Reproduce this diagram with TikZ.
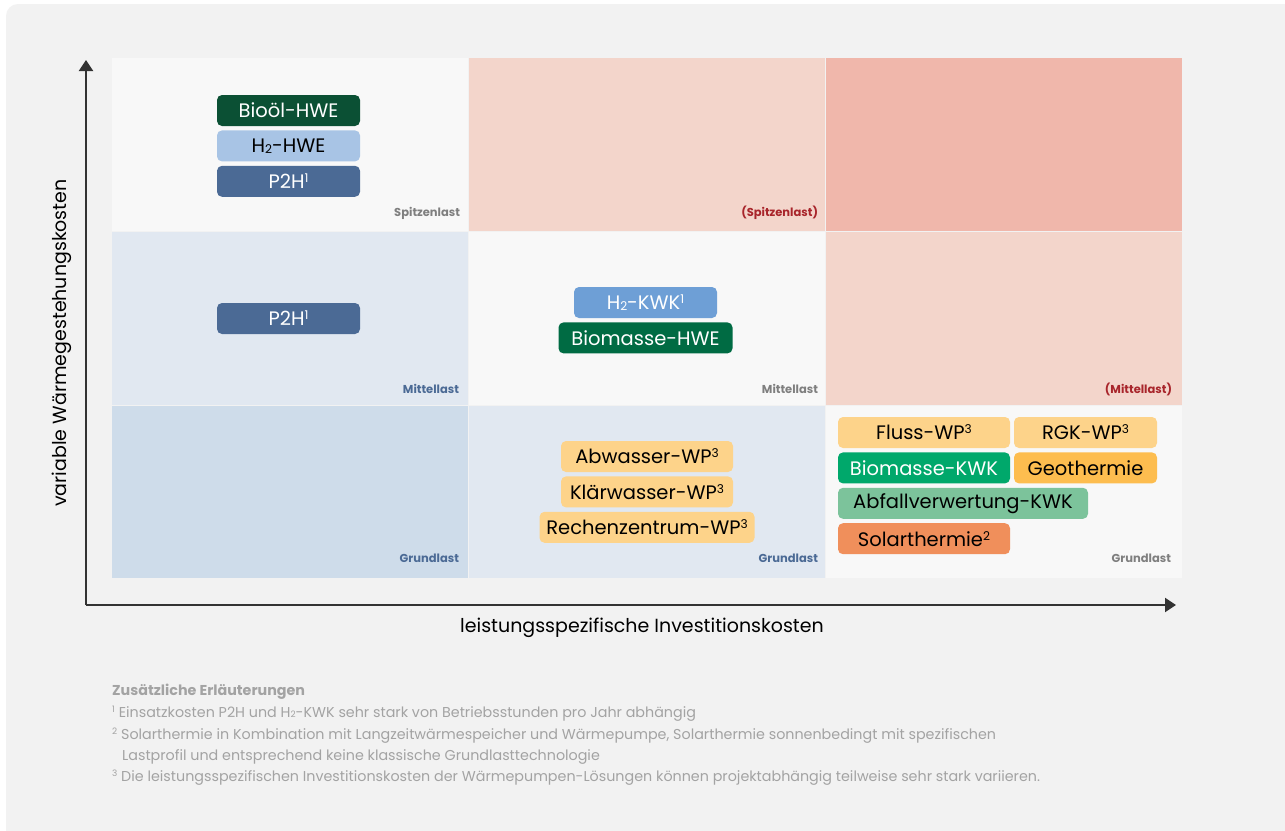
\documentclass[tikz,border=0pt]{standalone}
\usepackage{fontspec}
\setmainfont{Poppins}
\usepackage{xcolor}
\usepackage{graphicx}
\usetikzlibrary{arrows.meta,positioning}

\definecolor{cardgrey}{HTML}{F2F2F2}
\definecolor{cellwhite}{HTML}{F8F8F8}
\definecolor{cellrose}{HTML}{F3D5CB}
\definecolor{cellred}{HTML}{F0B7AB}
\definecolor{cellsky}{HTML}{E1E8F1}
\definecolor{cellblue}{HTML}{CEDCEA}
\definecolor{darkgreen}{HTML}{0B5034}
\definecolor{midgreen}{HTML}{006B43}
\definecolor{brightgreen}{HTML}{00A86B}
\definecolor{palegreen}{HTML}{7CC39B}
\definecolor{paleblue}{HTML}{A8C4E5}
\definecolor{midblue}{HTML}{6E9FD6}
\definecolor{slateblue}{HTML}{4B6A95}
\definecolor{paleorange}{HTML}{FDD38A}
\definecolor{techorange}{HTML}{FDBD4F}
\definecolor{salmon}{HTML}{F08F5B}
\definecolor{labelgrey}{HTML}{7F7F7F}
\definecolor{labelred}{HTML}{A8252B}
\definecolor{notegrey}{HTML}{A3A3A3}
\definecolor{axisgrey}{HTML}{333333}

\newcommand{\supnum}[1]{\raisebox{0.3em}{\scalebox{0.62}{#1}}}
\newcommand{\subnum}[1]{\raisebox{-0.06em}{\scalebox{0.62}{#1}}}

\begin{document}
\begin{tikzpicture}[x=1pt,y=-1pt,
  cell/.style={rectangle,inner sep=0pt,minimum width=356pt,minimum height=173pt},
  tech/.style={rectangle,rounded corners=5pt,inner sep=0pt,minimum height=31pt,
    font=\fontsize{19.5}{21}\selectfont},
  loadlabel/.style={anchor=base east,inner sep=0pt,font=\fontsize{11.5}{12}\bfseries},
  axislabel/.style={inner sep=0pt,font=\fontsize{19}{21}\selectfont},
  note/.style={anchor=base west,inner sep=0pt,text=notegrey,font=\fontsize{14.3}{16}\selectfont},
  axis/.style={line width=2pt,color=axisgrey,-{Triangle[width=14pt,length=11pt]}}]
\useasboundingbox (0,0) rectangle (1285,830);
\fill[white] (0,0) rectangle (1285,830);
%Shape: Card
\fill[cardgrey,rounded corners=12pt] (6,4) rectangle (1310,860);

%Cells: row 1
\node[cell,fill=cellwhite] (c11) at (290,144.5) {};
\node[cell,fill=cellrose] (c12) at (647,144.5) {};
\node[cell,fill=cellred] (c13) at (1004,144.5) {};
%Cells: row 2
\node[cell,fill=cellsky] (c21) at (290,318.5) {};
\node[cell,fill=cellwhite] (c22) at (647,318.5) {};
\node[cell,fill=cellrose] (c23) at (1004,318.5) {};
%Cells: row 3
\node[cell,fill=cellblue,minimum height=172pt] (c31) at (290,492) {};
\node[cell,fill=cellsky,minimum height=172pt] (c32) at (647,492) {};
\node[cell,fill=cellwhite,minimum height=172pt] (c33) at (1004,492) {};

%Load labels
\node[loadlabel,text=labelgrey] (l11) at ([shift={(-8,-15)}]c11.south east) {Spitzenlast};
\node[loadlabel,text=labelred] (l12) at ([shift={(-7,-15)}]c12.south east) {(Spitzenlast)};
\node[loadlabel,text=slateblue] (l21) at ([shift={(-9,-12)}]c21.south east) {Mittellast};
\node[loadlabel,text=labelgrey] (l22) at ([shift={(-7,-12)}]c22.south east) {Mittellast};
\node[loadlabel,text=labelred] (l23) at ([shift={(-10,-12)}]c23.south east) {(Mittellast)};
\node[loadlabel,text=slateblue] (l31) at ([shift={(-9,-16)}]c31.south east) {Grundlast};
\node[loadlabel,text=slateblue] (l32) at ([shift={(-7,-16)}]c32.south east) {Grundlast};
\node[loadlabel,text=labelgrey] (l33) at ([shift={(-11,-16)}]c33.south east) {Grundlast};

%Technologies: Spitzenlast
\node[tech,fill=darkgreen,text=white,minimum width=143pt] (biooel) at (288.5,110.5) {Bioöl-HWE};
\node[tech,fill=paleblue,minimum width=143pt,below=4pt of biooel] (hhwe) {H\subnum{2}-HWE};
\node[tech,fill=slateblue,text=white,minimum width=143pt,below=4pt of hhwe] (ptwoh) {P2H\supnum{1}};
%Technologies: Mittellast
\node[tech,fill=slateblue,text=white,minimum width=143pt] (ptwohm) at (288.5,318.5) {P2H\supnum{1}};
\node[tech,fill=midblue,text=white,minimum width=143pt] (hkwk) at (645.5,302.5) {H\subnum{2}-KWK\supnum{1}};
\node[tech,fill=midgreen,text=white,minimum width=174pt,below=4pt of hkwk] (bhwe) {Biomasse-HWE};
%Technologies: Grundlast
\node[tech,fill=paleorange,minimum width=172pt] (abwp) at (647,456.5) {Abwasser-WP\supnum{3}};
\node[tech,fill=paleorange,minimum width=172pt,below=4pt of abwp] (klwp) {Klärwasser-WP\supnum{3}};
\node[tech,fill=paleorange,minimum width=215pt,below=4pt of klwp] (rzwp) {Rechenzentrum-WP\supnum{3}};
\node[tech,fill=paleorange,minimum width=172pt] (fluss) at (924,432.5) {Fluss-WP\supnum{3}};
\node[tech,fill=paleorange,minimum width=143pt] (rgk) at (1085.5,432.5) {RGK-WP\supnum{3}};
\node[tech,fill=brightgreen,text=white,minimum width=172pt,below=4pt of fluss] (bkwk) {Biomasse-KWK};
\node[tech,fill=techorange,minimum width=143pt,below=4pt of rgk] (geo) {Geothermie};
\node[tech,fill=palegreen,minimum width=250pt,below=4pt of bkwk.south west,anchor=north west] (abfall) {Abfallverwertung-KWK};
\node[tech,fill=salmon,minimum width=172pt,below=4pt of abfall.south west,anchor=north west] (solar) {Solarthermie\supnum{2}};

%Axes
\coordinate (origin) at (86,605);
\coordinate (ytip) at (86,60);
\coordinate (xtip) at (1176,605);
\draw[axis] (origin) -- (ytip);
\draw[axis] (origin) -- (xtip);
% Text Node
\node[axislabel,rotate=90] (ylab) at (62,343) {variable Wärmegestehungskosten};
\node[axislabel] (xlab) at (642,628) {leistungsspezifische Investitionskosten};

%Footnotes
\node[note,font=\fontsize{14.3}{16}\bfseries] (notetitle) at (112,695) {Zusätzliche Erläuterungen};
\node[note] (note1) at (112,717) {\supnum{1} Einsatzkosten P2H und H\subnum{2}-KWK sehr stark von Betriebsstunden pro Jahr abhängig};
\node[note] (note2) at (112,739) {\supnum{2} Solarthermie in Kombination mit Langzeitwärmespeicher und Wärmepumpe, Solarthermie sonnenbedingt mit spezifischen};
\node[note] (note2b) at (122,760) {Lastprofil und entsprechend keine klassische Grundlasttechnologie};
\node[note] (note3) at (112,781) {\supnum{3} Die leistungsspezifischen Investitionskosten der Wärmepumpen-Lösungen können projektabhängig teilweise sehr stark variieren.};
\end{tikzpicture}
\end{document}
